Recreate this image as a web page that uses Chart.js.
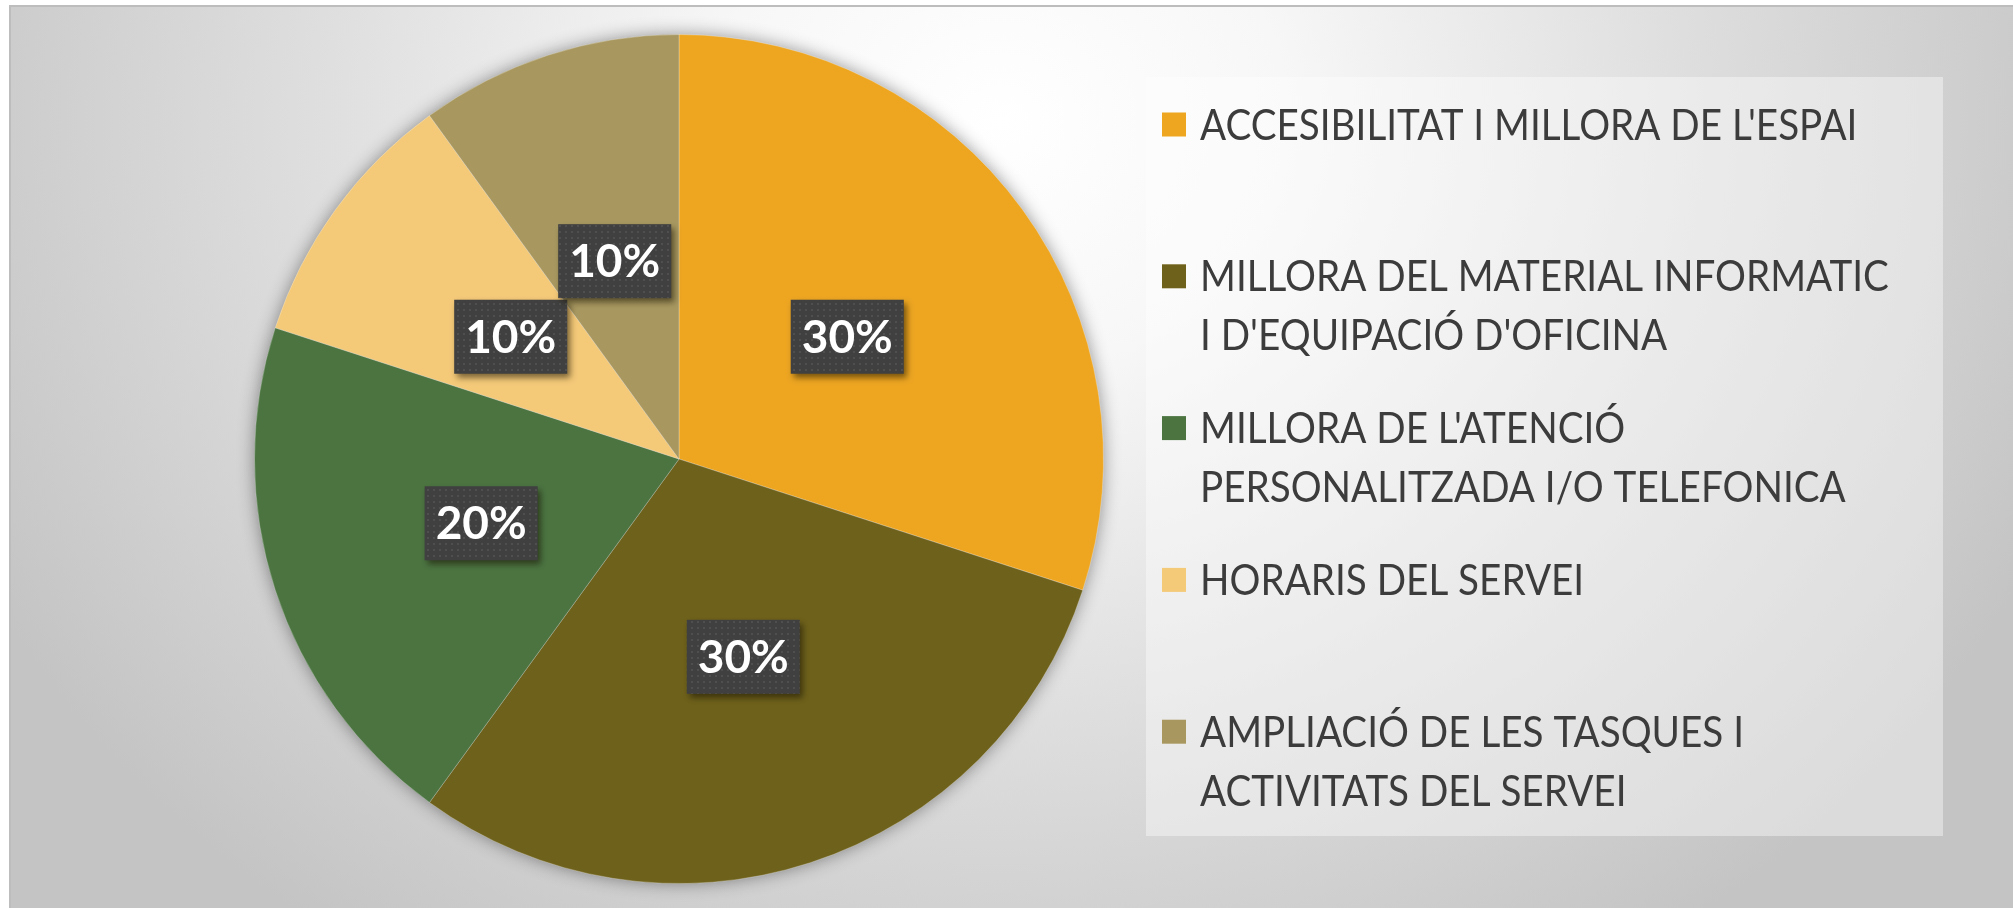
<!DOCTYPE html>
<html lang="ca">
<head>
<meta charset="UTF-8">
<title>Propostes de millora del servei</title>
<script src="https://cdn.jsdelivr.net/npm/chart.js"></script>
<style>
  html, body { margin: 0; padding: 0; background: #fff; }
  body { width: 2013px; height: 908px; overflow: hidden; position: relative; }
  #frame {
    position: absolute; left: 9px; top: 5px; width: 2004px; height: 903px;
    box-sizing: border-box;
    border-top: 2px solid #bdbdbd; border-left: 2px solid #bdbdbd;
    background: radial-gradient(ellipse 1150px 1000px at 990px 115px, #ffffff 0%, #f7f7f7 25%, #dedede 60%, #c4c4c4 100%);
  }
  canvas { display: block; }
</style>
</head>
<body>
<div id="frame">
  <canvas id="pieChart" width="2002" height="901"></canvas>
</div>
<script>
// categories (multi-line legend labels), shares in percent, slice colours
const categories = [
  ["ACCESIBILITAT I MILLORA DE L'ESPAI"],
  ["MILLORA DEL MATERIAL INFORMATIC", "I D'EQUIPACIÓ D'OFICINA"],
  ["MILLORA DE L'ATENCIÓ", "PERSONALITZADA I/O TELEFONICA"],
  ["HORARIS DEL SERVEI"],
  ["AMPLIACIÓ DE LES TASQUES I", "ACTIVITATS DEL SERVEI"]
];
const shares = [30, 30, 20, 10, 10];
const sliceColors = ['#eea621', '#6e611b', '#4b7441', '#f4c978', '#a89860'];

// dotted dark fill used behind the percentage labels
function dotPattern(ctx) {
  const c = document.createElement('canvas');
  c.width = 6; c.height = 6;
  const p = c.getContext('2d');
  p.fillStyle = '#404040';
  p.fillRect(0, 0, 6, 6);
  p.fillStyle = '#4f4f4f';
  p.fillRect(2, 2, 2, 2);
  return ctx.createPattern(c, 'repeat');
}

// soft shadow under the whole pie
const pieShadow = {
  id: 'pieShadow',
  beforeDatasetsDraw(chart) {
    const arc = chart.getDatasetMeta(0).data[0];
    if (!arc) return;
    const { x, y, outerRadius } = arc.getProps(['x', 'y', 'outerRadius'], true);
    const ctx = chart.ctx;
    ctx.save();
    ctx.shadowColor = 'rgba(0,0,0,0.45)';
    ctx.shadowBlur = 18;
    ctx.fillStyle = '#8a8a8a';
    ctx.beginPath();
    ctx.arc(x, y, outerRadius - 1, 0, Math.PI * 2);
    ctx.fill();
    ctx.restore();
  }
};

// percentage labels in dark boxes
const sliceLabels = {
  id: 'sliceLabels',
  afterDatasetsDraw(chart) {
    const ctx = chart.ctx;
    const ds = chart.data.datasets[0];
    const total = ds.data.reduce((a, b) => a + b, 0);
    const pattern = dotPattern(ctx);
    chart.getDatasetMeta(0).data.forEach((arc, i) => {
      const { x, y, startAngle, endAngle, outerRadius } =
        arc.getProps(['x', 'y', 'startAngle', 'endAngle', 'outerRadius'], true);
      const mid = (startAngle + endAngle) / 2;
      const cx = x + Math.cos(mid) * outerRadius * 0.49;
      const cy = y + Math.sin(mid) * outerRadius * 0.49;
      const text = Math.round(ds.data[i] / total * 100) + '%';
      ctx.save();
      ctx.font = 'bold 46px Lato';
      const w = ctx.measureText(text).width + 22;
      const h = 74;
      ctx.shadowColor = 'rgba(20,15,0,0.55)';
      ctx.shadowBlur = 6;
      ctx.shadowOffsetX = 3;
      ctx.shadowOffsetY = 4;
      ctx.fillStyle = pattern;
      ctx.fillRect(cx - w / 2, cy - h / 2, w, h);
      ctx.shadowColor = 'transparent';
      ctx.fillStyle = '#ffffff';
      ctx.textAlign = 'center';
      ctx.textBaseline = 'alphabetic';
      ctx.fillText(text, cx, cy + 16);
      ctx.restore();
    });
  }
};

// legend panel on the right, entries in equal slots
const sideLegend = {
  id: 'sideLegend',
  beforeDatasetsDraw(chart) {
    const ctx = chart.ctx;
    const box = { x: 1135, y: 70, w: 797, h: 759 };
    const slot = box.h / categories.length;
    const fontSize = 42;
    ctx.save();
    ctx.fillStyle = 'rgba(255,255,255,0.4)';
    ctx.fillRect(box.x, box.y, box.w, box.h);
    ctx.font = fontSize + 'px Lato';
    ctx.textAlign = 'left';
    ctx.textBaseline = 'alphabetic';
    chart.data.labels.forEach((lines, i) => {
      const mid = box.y + slot * i + 47.5;
      ctx.fillStyle = chart.data.datasets[0].backgroundColor[i];
      ctx.fillRect(box.x + 16, mid - 12, 24, 24);
      ctx.fillStyle = '#3c3c3c';
      lines.forEach((line, j) => {
        // Calibri-like narrow text: squeeze horizontally
        ctx.save();
        ctx.translate(box.x + 54, mid + 15 + j * 59);
        ctx.scale(0.92, 1);
        ctx.fillText(line, 0, 0);
        ctx.restore();
      });
    });
    ctx.restore();
  }
};

new Chart(document.getElementById('pieChart'), {
  type: 'pie',
  data: {
    labels: categories,
    datasets: [{
      data: shares,
      backgroundColor: sliceColors,
      borderColor: 'rgba(255,255,255,0.25)',
      borderWidth: 1
    }]
  },
  options: {
    responsive: false,
    animation: false,
    layout: { padding: { left: 243, top: 27, right: 909, bottom: 24 } },
    plugins: {
      legend: { display: false },
      tooltip: { enabled: false }
    }
  },
  plugins: [sideLegend, pieShadow, sliceLabels]
});
</script>
</body>
</html>
